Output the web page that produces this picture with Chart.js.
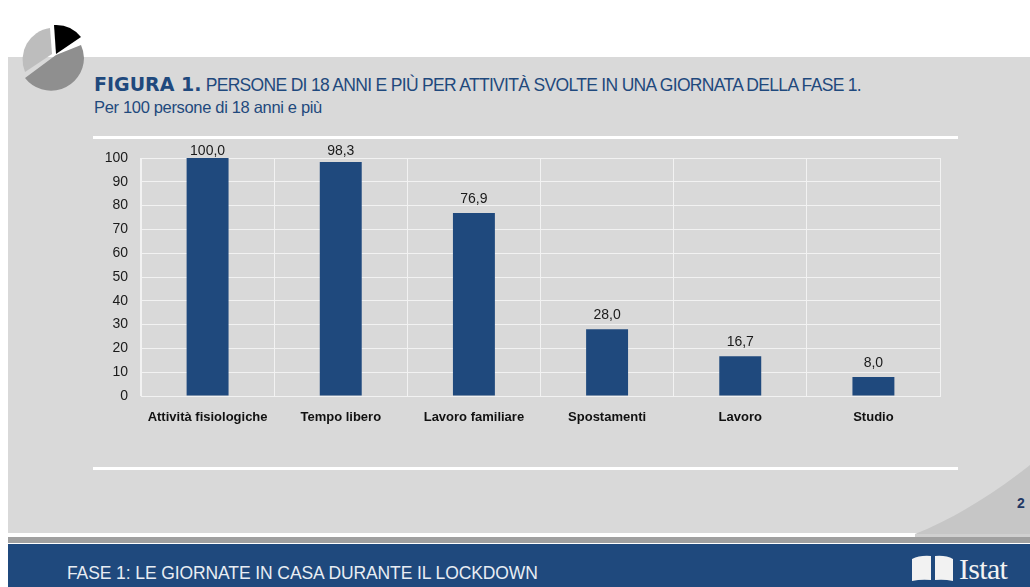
<!DOCTYPE html>
<html>
<head>
<meta charset="utf-8">
<script src="https://cdn.jsdelivr.net/npm/chart.js@4"></script>
<style>
    html, body { margin: 0; padding: 0; background: #fff; }
    body { width: 1030px; height: 587px; position: relative; overflow: hidden; font-family: "Liberation Sans", sans-serif; }
    .abs { position: absolute; }
    #panel { left: 8px; top: 57px; width: 1022px; height: 476px; background: #d9d9d9; }
    #band { left: 8px; top: 537px; width: 1022px; height: 6px; background: #a0a0a0; }
    #footer { left: 8px; top: 544px; width: 1022px; height: 43px; background: #1f497d; }
    .rule { left: 93px; width: 865px; height: 3px; background: #fff; }
    #title { left: 94px; top: 73px; font-size: 17.5px; color: #1f497d; white-space: nowrap; letter-spacing: -0.68px; }
    #title b { font-family: "DejaVu Sans", sans-serif; font-size: 19px; letter-spacing: 0; }
    #subtitle { left: 94px; top: 98px; font-size: 16.5px; color: #1f497d; white-space: nowrap; letter-spacing: -0.33px; }
    #footText { left: 67px; top: 563px; font-size: 17.5px; color: #e8edf3; white-space: nowrap; letter-spacing: -0.1px; }
    #pageNum { left: 1017px; top: 495px; font-size: 14px; font-weight: bold; color: #1f3864; }
    #logoText { left: 959px; top: 552px; font-family: "Liberation Serif", serif; font-size: 30px; color: #f2f2f2; letter-spacing: -0.7px; white-space: nowrap; }
    #chartBox { left: 93px; top: 130px; width: 860px; height: 310px; }
</style>
</head>
<body>
<div class="abs" id="panel"></div>
<svg class="abs" style="left:0;top:0" width="1030" height="587">
    <path d="M915 534 C950 520 990 497 1030 465 L1030 534 Z" fill="#c6c6c6"/>
    <rect x="915" y="534" width="115" height="3" fill="#d0d0d0"/>
    <path d="M50 28 L52 54 L25 72 A32 32 0 0 1 50 28 Z" fill="#bdbdbd"/>
    <path d="M81 45 L56 55 L25 78 A33 33 0 0 0 84 58 A33 33 0 0 0 81 45 Z" fill="#8f8f8f"/>
    <path d="M54 25 A32 32 0 0 1 81 37 L56 54 Z" fill="#000"/>
</svg>
<div class="abs" id="band"></div>
<div class="abs" id="footer"></div>
<div class="abs rule" style="top:136px"></div>
<div class="abs rule" style="top:467px"></div>
<div class="abs" id="title"><b>FIGURA 1.</b> PERSONE DI 18 ANNI E PIÙ PER ATTIVITÀ SVOLTE IN UNA GIORNATA DELLA FASE 1.</div>
<div class="abs" id="subtitle">Per 100 persone di 18 anni e più</div>
<div class="abs" id="chartBox"><canvas id="barChart" width="860" height="310"></canvas></div>
<div class="abs" id="footText">FASE 1: LE GIORNATE IN CASA DURANTE IL LOCKDOWN</div>
<div class="abs" id="pageNum">2</div>
<svg class="abs" style="left:911px;top:555px" width="46" height="26">
    <path d="M1 4 Q9 0 20 1 L20 25 Q10 24 1 26 Z" fill="#f2f2f2"/>
    <path d="M24 1 Q35 0 42 4 L42 26 Q33 24 24 25 Z" fill="#f2f2f2"/>
</svg>
<div class="abs" id="logoText">Istat</div>

<script>
const categories = ["Attività fisiologiche", "Tempo libero", "Lavoro familiare", "Spostamenti", "Lavoro", "Studio"];
const values = [100.0, 98.3, 76.9, 28.0, 16.7, 8.0];
const valueLabels = ["100,0", "98,3", "76,9", "28,0", "16,7", "8,0"];

// Value labels above the bars, kept from running higher than the top of the plot
const barLabels = {
    id: "barLabels",
    afterDatasetsDraw(chart) {
        const ctx = chart.ctx;
        ctx.save();
        ctx.font = '14px "Liberation Sans"';
        ctx.fillStyle = "#1a1a1a";
        ctx.textAlign = "center";
        ctx.textBaseline = "bottom";
        chart.getDatasetMeta(0).data.forEach((bar, i) => {
            ctx.fillText(valueLabels[i], bar.x, Math.max(bar.y - 7, chart.chartArea.top));
        });
        ctx.restore();
    }
};

new Chart(document.getElementById("barChart"), {
    type: "bar",
    data: {
        labels: categories,
        datasets: [{
            data: values,
            backgroundColor: "#1f497d",
            barPercentage: 0.315,
            categoryPercentage: 1
        }]
    },
    options: {
        responsive: false,
        animation: false,
        layout: { padding: { top: 28, right: 13, left: 0, bottom: 0 } },
        plugins: { legend: { display: false }, tooltip: { enabled: false } },
        scales: {
            x: {
                grid: { color: "#f2f2f2", lineWidth: 1, drawTicks: false },
                border: { color: "#f2f2f2" },
                ticks: { color: "#111", font: { family: "Liberation Sans", size: 13, weight: "bold" }, padding: 14, maxRotation: 0, autoSkip: false },
                afterFit(axis) { axis.height = 44; }
            },
            y: {
                min: 0,
                max: 100,
                grid: { color: "#f2f2f2", lineWidth: 1, drawTicks: false },
                border: { color: "#f2f2f2" },
                ticks: { stepSize: 10, autoSkip: false, color: "#1a1a1a", font: { family: "Liberation Sans", size: 14 }, padding: 13 },
                afterFit(axis) { axis.width = 48; axis.paddingTop = 0; axis.paddingBottom = 0; }
            }
        }
    },
    plugins: [barLabels]
});
</script>
</body>
</html>
